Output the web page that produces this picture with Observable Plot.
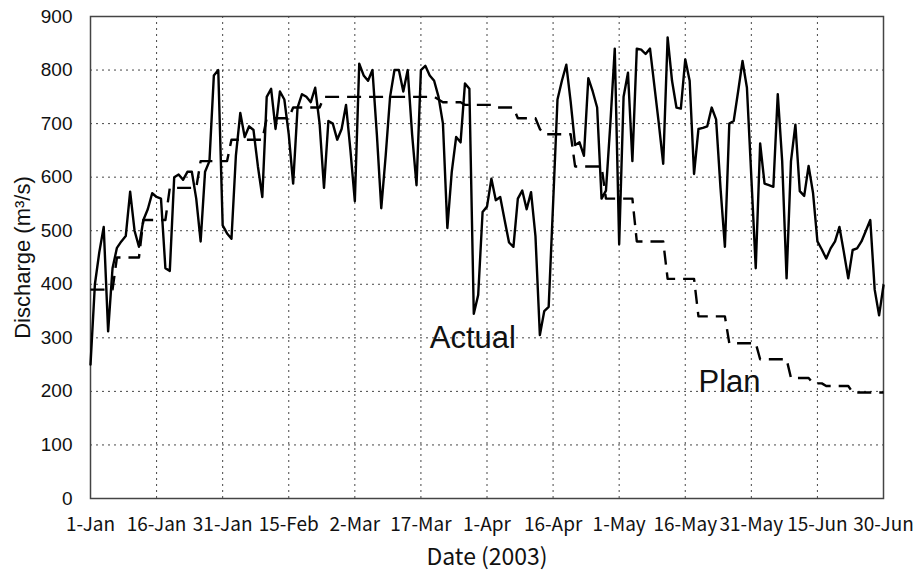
<!DOCTYPE html>
<html><head><meta charset="utf-8">
<script src="https://cdn.jsdelivr.net/npm/d3@7"></script>
<script src="https://cdn.jsdelivr.net/npm/@observablehq/plot@0.6"></script>
<style>
html,body{margin:0;padding:0;background:#fff;}
#chart svg{display:block;}
</style>
</head><body><div id="chart"></div>
<script>
// ---- data ----
const startDate = "2003-01-01";

// daily actual discharge, 1 Jan .. 30 Jun 2003 (m3/s)
const actual = [
  250,400,460,507,312,430,468,480,490,573,
  500,470,520,540,570,563,560,430,425,600,
  605,595,610,610,560,480,610,630,790,800,
  510,495,485,640,720,675,695,688,620,563,
  750,765,690,760,745,680,588,730,755,750,
  740,767,700,580,705,700,670,690,735,650,
  555,812,790,780,800,680,542,640,750,800,
  800,760,800,680,585,800,808,790,780,750,
  700,505,610,675,665,775,765,345,380,535,
  545,597,557,563,520,478,470,560,575,540,
  572,490,305,350,358,550,745,780,810,740,
  660,665,640,785,760,730,560,575,700,840,
  475,750,795,630,840,838,830,840,770,700,
  625,861,780,730,728,820,780,606,690,692,
  695,730,708,580,470,700,705,760,817,767,
  600,430,663,588,585,582,755,630,411,630,
  698,574,565,621,571,480,465,448,467,480,
  507,460,411,464,467,480,500,520,390,342,
  398
];

// daily planned discharge (step schedule), same days
const plan = [
  390,390,390,390,390,390,450,450,450,450,
  450,450,520,520,520,520,520,520,580,580,
  580,580,580,580,580,630,630,630,630,630,
  630,630,670,670,670,670,670,670,670,670,
  710,710,710,710,710,710,730,730,730,730,
  730,730,730,750,750,750,750,750,750,750,
  750,750,750,750,750,750,750,750,750,750,
  750,750,750,750,750,750,750,750,750,745,
  740,740,740,740,740,735,735,735,735,735,
  735,735,730,730,730,730,730,710,710,710,
  710,710,690,680,680,680,680,680,680,680,
  620,620,620,620,620,620,620,560,560,560,
  560,560,560,560,480,480,480,480,480,480,
  480,410,410,410,410,410,410,410,340,340,
  340,340,340,340,340,290,290,290,290,290,
  290,290,260,260,260,260,260,260,260,225,
  225,225,225,225,215,215,215,210,210,210,
  210,210,210,198,198,198,198,198,198,198,
  198
];

const tickDates = ["2003-01-01","2003-01-16","2003-01-31","2003-02-15","2003-03-02","2003-03-17",
                   "2003-04-01","2003-04-16","2003-05-01","2003-05-16","2003-05-31","2003-06-15","2003-06-30"];
const tickLabels = ["1-Jan","16-Jan","31-Jan","15-Feb","2-Mar","17-Mar",
                    "1-Apr","16-Apr","1-May","16-May","31-May","15-Jun","30-Jun"];
const yTicks = [0,100,200,300,400,500,600,700,800,900];

const annotations = [
  {date: "2003-03-19", value: 300, text: "Actual"},
  {date: "2003-05-19", value: 218, text: "Plan"}
];

const yLabel = "Discharge (m\u00B3/s)";
const xLabel = "Date (2003)";

// ---- build tables ----
const t0 = new Date(startDate + "T00:00:00Z");
const dayOf = i => new Date(t0.getTime() + i * 864e5);
const actualData = actual.map((v, i) => ({date: dayOf(i), value: v}));
const planData = plan.map((v, i) => ({date: dayOf(i), value: v}));
const ticks = tickDates.map(s => new Date(s + "T00:00:00Z"));
const labelMap = new Map(ticks.map((d, i) => [+d, tickLabels[i]]));
const notes = annotations.map(a => ({...a, date: new Date(a.date + "T00:00:00Z")}));

const grid = {stroke: "#333", strokeWidth: 1, strokeDasharray: "2,4", strokeOpacity: 0.9};
const narrow = "'Noto Sans CJK KR', 'DejaVu Sans Condensed', sans-serif";

const chart = Plot.plot({
  width: 914, height: 575,
  marginLeft: 90, marginRight: 31, marginTop: 16, marginBottom: 77,
  style: {fontFamily: "'Liberation Sans', Arial, sans-serif", background: "#fff", color: "#111"},
  x: {type: "utc", domain: [ticks[0], ticks[ticks.length - 1]]},
  y: {domain: [0, 900]},
  marks: [
    Plot.ruleY(yTicks, grid),
    Plot.ruleX(ticks, grid),
    Plot.frame({stroke: "#444", strokeWidth: 1.5}),
    Plot.axisY({ticks: yTicks, tickSize: 0, tickPadding: 18, fontSize: 19, label: null}),
    Plot.axisX({ticks: ticks, tickFormat: d => labelMap.get(+d), tickSize: 0, tickPadding: 19,
                fontSize: 19, fontFamily: narrow, label: null}),
    Plot.line(planData, {x: "date", y: "value", stroke: "#000", strokeWidth: 2.4,
                         strokeDasharray: "14,8", strokeLinecap: "butt"}),
    Plot.line(actualData, {x: "date", y: "value", stroke: "#000", strokeWidth: 2.4}),
    Plot.text(notes, {x: "date", y: "value", text: "text", textAnchor: "start", fontSize: 31, fill: "#111"}),
    Plot.text([yLabel], {text: d => d, frameAnchor: "left", textAnchor: "middle", lineAnchor: "middle",
                         rotate: -90, dx: -68, fontSize: 22, fill: "#111"}),
    Plot.text([xLabel], {text: d => d, frameAnchor: "bottom", textAnchor: "middle", lineAnchor: "middle",
                         dy: 59, fontSize: 23, fill: "#111", fontFamily: narrow})
  ]
});
document.getElementById("chart").append(chart);
</script>
</body></html>
